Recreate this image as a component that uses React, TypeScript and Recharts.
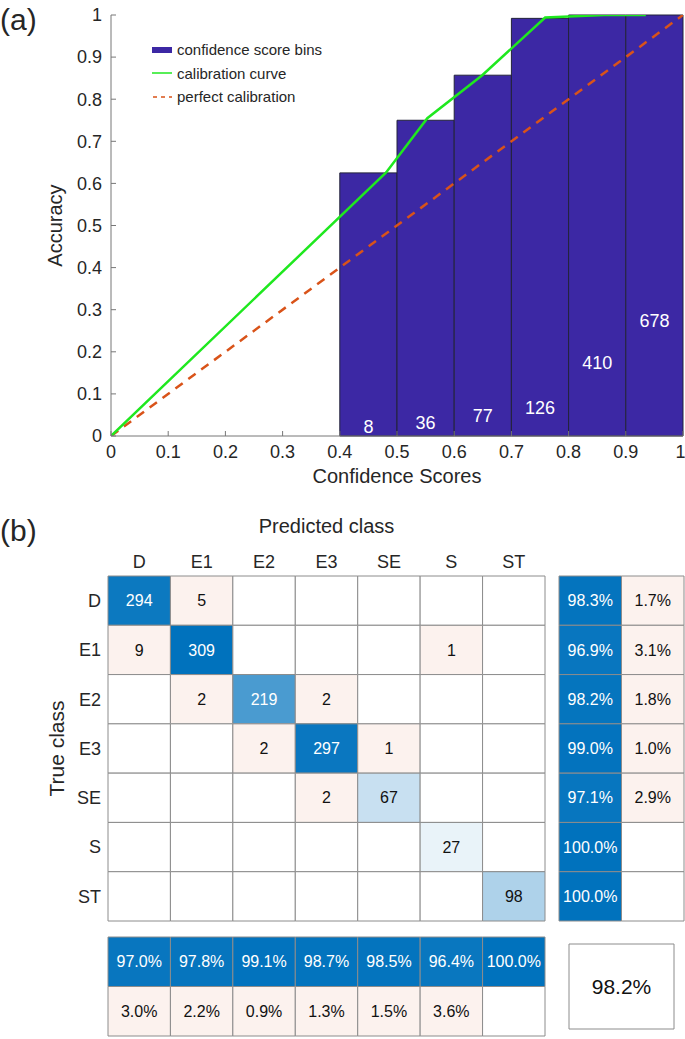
import React from "react";
import {
  ComposedChart,
  Line,
  XAxis,
  YAxis,
  ReferenceArea,
  Scatter,
  Legend,
} from "recharts";

const FONT = "'Liberation Sans', Arial, Helvetica, sans-serif";
const INK = "#262626";
const BAR = "#3c28a4";
const GREEN = "#1fe81f";
const ORANGE = "#d95319";
const BLUE = [0, 114, 189];
const RED = [217, 83, 25];

// ---- panel (a): reliability diagram ----
const binStart = [0.4, 0.5, 0.6, 0.7, 0.8, 0.9];
const binEnd = [0.5, 0.6, 0.7, 0.8, 0.9, 1.0];
const binAccuracy = [0.625, 0.75, 0.857, 0.992, 1.0, 1.0];
const binCounts = [8, 36, 77, 126, 410, 678];
const countLabelY = [0.022, 0.032, 0.048, 0.067, 0.173, 0.274];
const curveConf = [0, 0.481, 0.553, 0.649, 0.759, 0.862, 0.935];
const curveAcc = [0, 0.626, 0.755, 0.857, 0.994, 1.0, 1.0];
const perfectConf = [0, 1];
const perfectAcc = [0, 1];
const axisTicks = [0, 0.1, 0.2, 0.3, 0.4, 0.5, 0.6, 0.7, 0.8, 0.9, 1];

// ---- panel (b): confusion matrix ----
const classes = ["D", "E1", "E2", "E3", "SE", "S", "ST"];
const confusion = [
  [294, 5, 0, 0, 0, 0, 0],
  [9, 309, 0, 0, 0, 1, 0],
  [0, 2, 219, 2, 0, 0, 0],
  [0, 0, 2, 297, 1, 0, 0],
  [0, 0, 0, 2, 67, 0, 0],
  [0, 0, 0, 0, 0, 27, 0],
  [0, 0, 0, 0, 0, 0, 98],
];
const rowCorrect = [98.3, 96.9, 98.2, 99.0, 97.1, 100.0, 100.0];
const rowWrong = [1.7, 3.1, 1.8, 1.0, 2.9, 0, 0];
const colCorrect = [97.0, 97.8, 99.1, 98.7, 98.5, 96.4, 100.0];
const colWrong = [3.0, 2.2, 0.9, 1.3, 1.5, 3.6, 0];
const overallAccuracy = 98.2;

const calibData = curveConf.map((x, i) => ({ x, y: curveAcc[i] }));
const perfectData = perfectConf.map((x, i) => ({ x, y: perfectAcc[i] }));
const countData = binStart.map((s, i) => ({
  x: (s + binEnd[i]) / 2,
  y: countLabelY[i],
  n: binCounts[i],
}));

const mix = (c: number[], t: number) => {
  const ch = c.map((v) => Math.round(255 - (255 - v) * t));
  return `rgb(${ch[0]},${ch[1]},${ch[2]})`;
};
const maxDiag = Math.max(...confusion.map((r, i) => r[i]));
const PALE = mix(RED, 0.075);

const legendItems = [
  { label: "confidence score bins", kind: "bar" },
  { label: "calibration curve", kind: "line" },
  { label: "perfect calibration", kind: "dash" },
];

function CalibLegend() {
  return (
    <div style={{ fontSize: 15, lineHeight: "23.5px", color: INK, fontFamily: FONT }}>
      {legendItems.map((it) => (
        <div key={it.label} style={{ display: "flex", alignItems: "center", whiteSpace: "nowrap" }}>
          <svg width={25} height={12} style={{ display: "block" }}>
            {it.kind === "bar" && <rect x={0} y={3} width={20} height={6} fill={BAR} />}
            {it.kind === "line" && <line x1={0} x2={20} y1={6} y2={6} stroke={GREEN} strokeWidth={1.5} />}
            {it.kind === "dash" && (
              <line x1={1} x2={20} y1={6} y2={6} stroke={ORANGE} strokeWidth={1.5} strokeDasharray="4 4" />
            )}
          </svg>
          <span>{it.label}</span>
        </div>
      ))}
    </div>
  );
}

const CountText = (p: any) => (
  <text x={p.cx} y={p.cy} fill="#fff" fontSize={18} textAnchor="middle" dominantBaseline="central">
    {p.payload.n}
  </text>
);

function cell(key: string, x1: number, x2: number, y1: number, y2: number, fill: string, text: string, textFill: string, fontSize = 16) {
  return (
    <ReferenceArea
      key={key}
      x1={x1}
      x2={x2}
      y1={y1}
      y2={y2}
      fill={fill}
      fillOpacity={1}
      stroke="#8c8c8c"
      strokeWidth={1}
      ifOverflow="visible"
      label={text ? { value: text, position: "center", fill: textFill, fontSize } : undefined}
    />
  );
}

const pct = (v: number) => `${v.toFixed(1)}%`;

function CalibrationPanel() {
  return (
    <ComposedChart width={685} height={490} data={countData} margin={{ top: 15, right: 2, left: 0, bottom: 0 }}>
      <XAxis
        dataKey="x"
        type="number"
        domain={[0, 1]}
        ticks={axisTicks}
        allowDataOverflow
        height={54}
        tickSize={-5}
        tickMargin={14}
        stroke="#777"
        tick={{ fontSize: 18, fill: INK }}
        label={{ value: "Confidence Scores", position: "insideBottom", offset: 7, fontSize: 20, fill: INK }}
      />
      <XAxis xAxisId="top" orientation="top" type="number" domain={[0, 1]} ticks={axisTicks} height={0} tickSize={-5} tick={false} stroke="#777" />
      <YAxis
        type="number"
        domain={[0, 1]}
        ticks={axisTicks}
        allowDataOverflow
        width={111}
        tickSize={-5}
        tickMargin={14}
        stroke="#777"
        tick={{ fontSize: 18, fill: INK }}
        label={{ value: "Accuracy", angle: -90, position: "insideLeft", offset: 55, fontSize: 20, fill: INK, style: { textAnchor: "middle" } }}
      />
      <YAxis yAxisId="right" orientation="right" type="number" domain={[0, 1]} ticks={axisTicks} width={0} tickSize={-5} tick={false} stroke="#777" />
      {binStart.map((s, i) => (
        <ReferenceArea
          key={`bin-${i}`}
          x1={s}
          x2={binEnd[i]}
          y1={0}
          y2={binAccuracy[i]}
          fill={BAR}
          fillOpacity={1}
          stroke="#23233a"
          strokeWidth={1}
        />
      ))}
      <Line data={perfectData} dataKey="y" type="linear" stroke={ORANGE} strokeWidth={2.5} strokeDasharray="9 7" dot={false} isAnimationActive={false} />
      <Line data={calibData} dataKey="y" type="linear" stroke={GREEN} strokeWidth={2.5} dot={false} isAnimationActive={false} />
      <Scatter dataKey="y" shape={CountText} isAnimationActive={false} />
      <Legend
        layout="vertical"
        align="center"
        verticalAlign="middle"
        content={() => <CalibLegend />}
        wrapperStyle={{ left: 152, top: 38, width: 200 }}
      />
    </ComposedChart>
  );
}

const matrixPoints = confusion.flatMap((r, i) => r.map((v, j) => ({ x: j + 0.5, y: i + 0.5, v })));

function MatrixPanel() {
  const cells = confusion.flatMap((r, i) =>
    r.map((v, j) => {
      let fill = "#fff";
      let textFill = "#111";
      if (i === j && v > 0) {
        const t = v / maxDiag;
        fill = mix(BLUE, t);
        textFill = t > 0.5 ? "#fff" : "#111";
      } else if (v > 0) {
        fill = PALE;
      }
      return cell(`m-${i}-${j}`, j, j + 1, i, i + 1, fill, v > 0 ? String(v) : "", textFill);
    })
  );
  return (
    <ComposedChart width={546} height={412} data={matrixPoints} margin={{ top: 0, right: 1, left: 0, bottom: 1 }}>
      <XAxis
        dataKey="x"
        orientation="top"
        type="number"
        domain={[0, 7]}
        ticks={classes.map((_, i) => i + 0.5)}
        tickFormatter={(v: number) => classes[Math.floor(v)]}
        height={66}
        axisLine={false}
        tickLine={false}
        tickSize={0}
        tickMargin={8}
        tick={{ fontSize: 18, fill: INK }}
        label={{ value: "Predicted class", position: "insideTop", offset: 9, fontSize: 20, fill: INK }}
      />
      <YAxis
        dataKey="y"
        type="number"
        domain={[0, 7]}
        reversed
        ticks={classes.map((_, i) => i + 0.5)}
        tickFormatter={(v: number) => classes[Math.floor(v)]}
        width={108}
        axisLine={false}
        tickLine={false}
        tickSize={0}
        tickMargin={7}
        tick={{ fontSize: 18, fill: INK }}
        label={{ value: "True class", angle: -90, position: "insideLeft", offset: 57, fontSize: 21, fill: INK, style: { textAnchor: "middle" } }}
      />
      {cells}
    </ComposedChart>
  );
}

const rowSummaryPoints = rowCorrect.map((v, i) => ({ x: 0.5, y: i + 0.5, v }));

function RowSummary() {
  return (
    <ComposedChart width={127} height={347} data={rowSummaryPoints} margin={{ top: 1, right: 1, left: 1, bottom: 1 }}>
      <XAxis dataKey="x" type="number" domain={[0, 2]} hide />
      <YAxis dataKey="y" type="number" domain={[0, 7]} reversed hide />
      {rowCorrect.map((v, i) => cell(`rc-${i}`, 0, 1, i, i + 1, mix(BLUE, v / 100), pct(v), "#fff"))}
      {rowWrong.map((v, i) =>
        cell(`rw-${i}`, 1, 2, i, i + 1, v > 0 ? PALE : "#fff", v > 0 ? pct(v) : "", "#111")
      )}
    </ComposedChart>
  );
}

const colSummaryPoints = colCorrect.map((v, j) => ({ x: j + 0.5, y: 0.5, v }));

function ColSummary() {
  return (
    <ComposedChart width={439} height={101} data={colSummaryPoints} margin={{ top: 1, right: 1, left: 1, bottom: 1 }}>
      <XAxis dataKey="x" type="number" domain={[0, 7]} hide />
      <YAxis dataKey="y" type="number" domain={[0, 2]} reversed hide />
      {colCorrect.map((v, j) => cell(`cc-${j}`, j, j + 1, 0, 1, mix(BLUE, v / 100), pct(v), "#fff"))}
      {colWrong.map((v, j) =>
        cell(`cw-${j}`, j, j + 1, 1, 2, v > 0 ? PALE : "#fff", v > 0 ? pct(v) : "", "#111")
      )}
    </ComposedChart>
  );
}

function OverallBox() {
  return (
    <ComposedChart width={107} height={87} data={[{ x: 0.5, y: 0.5 }]} margin={{ top: 1, right: 1, left: 1, bottom: 1 }}>
      <XAxis dataKey="x" type="number" domain={[0, 1]} hide />
      <YAxis dataKey="y" type="number" domain={[0, 1]} hide />
      {cell("overall", 0, 1, 0, 1, "#fff", pct(overallAccuracy), "#111", 21)}
    </ComposedChart>
  );
}

const abs = (left: number, top: number): React.CSSProperties => ({ position: "absolute", left, top });

export default function App() {
  return (
    <div style={{ position: "absolute", left: 0, top: 0, width: 685, height: 1039, background: "#fff", fontFamily: FONT, color: INK }}>
      <div style={{ ...abs(0, 3), fontSize: 30, lineHeight: "34px" }}>(a)</div>
      <div style={{ ...abs(0, 514), fontSize: 30, lineHeight: "34px" }}>(b)</div>
      <div style={abs(0, 0)}>
        <CalibrationPanel />
      </div>
      <div style={abs(0, 510)}>
        <MatrixPanel />
      </div>
      <div style={abs(558, 575)}>
        <RowSummary />
      </div>
      <div style={abs(107, 936)}>
        <ColSummary />
      </div>
      <div style={abs(568, 943)}>
        <OverallBox />
      </div>
    </div>
  );
}
